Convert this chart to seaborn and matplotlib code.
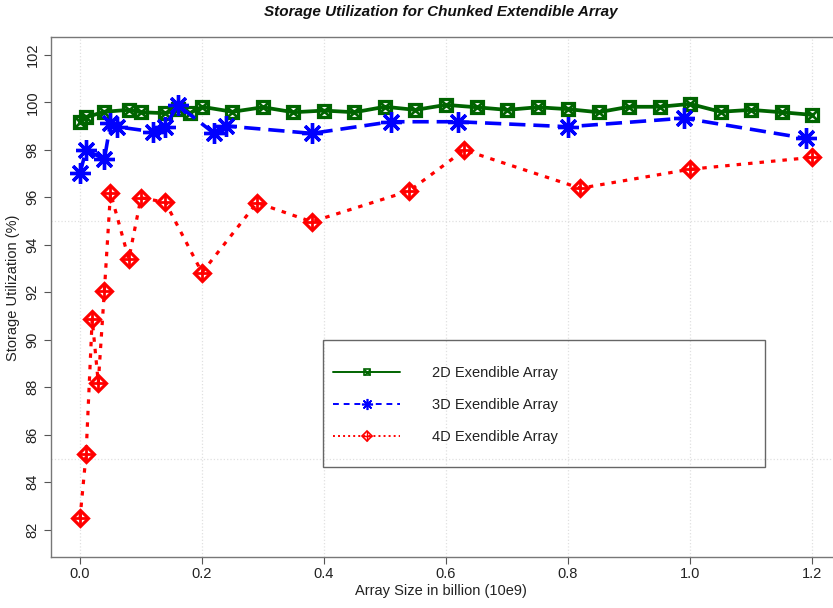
import matplotlib
matplotlib.use("Agg")
import numpy as np
import pandas as pd
import matplotlib.pyplot as plt
import seaborn as sns
from matplotlib.lines import Line2D
from matplotlib.patches import Rectangle
from matplotlib.legend_handler import HandlerTuple
from matplotlib import font_manager

# ---------------- data ----------------
x2d = [0.0, 0.01, 0.04, 0.08, 0.10, 0.14, 0.16, 0.18, 0.20, 0.25, 0.30, 0.35, 0.40,
       0.45, 0.50, 0.55, 0.60, 0.65, 0.70, 0.75, 0.80, 0.85, 0.90, 0.95, 1.00,
       1.05, 1.10, 1.15, 1.20]
y2d = [99.18, 99.37, 99.60, 99.68, 99.58, 99.54, 99.70, 99.54, 99.81, 99.60, 99.79,
       99.58, 99.65, 99.58, 99.81, 99.68, 99.89, 99.79, 99.68, 99.79, 99.71, 99.58,
       99.81, 99.81, 99.93, 99.60, 99.68, 99.58, 99.47]

x3d = [0.0, 0.01, 0.04, 0.05, 0.06, 0.12, 0.14, 0.16, 0.22, 0.24, 0.38, 0.51, 0.62,
       0.80, 0.99, 1.19]
y3d = [97.01, 97.99, 97.60, 99.12, 98.97, 98.76, 98.97, 99.89, 98.69, 99.00, 98.69,
       99.18, 99.18, 98.97, 99.33, 98.48]

x4d = [0.0, 0.01, 0.02, 0.03, 0.04, 0.05, 0.08, 0.10, 0.14, 0.20, 0.29, 0.38, 0.54,
       0.63, 0.82, 1.00, 1.20]
y4d = [82.48, 85.19, 90.88, 88.19, 92.07, 96.19, 93.40, 95.98, 95.79, 92.83, 95.77,
       94.97, 96.27, 97.99, 96.38, 97.18, 97.68]

series_labels = ["2D Exendible Array", "3D Exendible Array", "4D Exendible Array"]
xticks = [0.0, 0.2, 0.4, 0.6, 0.8, 1.0, 1.2]
xtick_labels = ["0.0", "0.2", "0.4", "0.6", "0.8", "1.0", "1.2"]
yticks = [82, 84, 86, 88, 90, 92, 94, 96, 98, 100, 102]
ygrid = [85, 90, 95, 100]

title = "Storage Utilization for Chunked Extendible Array"
xlabel = "Array Size in billion (10e9)"
ylabel = "Storage Utilization (%)"

# ---------------- style ----------------
sns.set_theme(style="white")
names = {f.name for f in font_manager.fontManager.ttflist}
fam = [f for f in ["Liberation Sans Narrow", "Liberation Sans", "DejaVu Sans"] if f in names]
plt.rcParams["font.family"] = fam

W, H = 833, 608
fig = plt.figure(figsize=(W / 100, H / 100), dpi=100)
L, R, T, B = 50.7, 841.3, 36.7, 556.7
ax = fig.add_axes([L / W, (H - B) / H, (R - L) / W, (B - T) / H])

green, blue, red = "#006400", "#0000FF", "#FF0000"

df2 = pd.DataFrame({"size": x2d, "util": y2d})
df3 = pd.DataFrame({"size": x3d, "util": y3d})
df4 = pd.DataFrame({"size": x4d, "util": y4d})

# 2D: square with X
sns.lineplot(data=df2, x="size", y="util", ax=ax, color=green, lw=2.7,
             marker="s", ms=8.5, mfc="none", mec=green, mew=2.3,
             estimator=None, errorbar=None, sort=False, zorder=3)
sns.lineplot(data=df2, x="size", y="util", ax=ax, color=green, ls="none",
             marker="x", ms=8.5, mec=green, mew=2.0,
             estimator=None, errorbar=None, sort=False, zorder=3)

# 3D: asterisk
sns.lineplot(data=df3, x="size", y="util", ax=ax, color=blue, lw=2.6,
             linestyle=(0, (4.5, 2.2)), marker=(8, 2, 0), ms=15, mec=blue, mew=2.4,
             estimator=None, errorbar=None, sort=False, zorder=4)

# 4D: diamond with plus
sns.lineplot(data=df4, x="size", y="util", ax=ax, color=red, lw=2.3,
             linestyle=(0, (1.4, 2.2)), marker="D", ms=8.3, mfc="none", mec=red, mew=2.3,
             estimator=None, errorbar=None, sort=False, zorder=5)
sns.lineplot(data=df4, x="size", y="util", ax=ax, color=red, ls="none",
             marker="+", ms=11.7, mec=red, mew=2.0,
             estimator=None, errorbar=None, sort=False, zorder=5)

# ---------------- axes ----------------
ax.set_xlim(-0.048, 1.248)
ax.set_ylim(80.87, 102.76)
ax.set_xticks(xticks)
ax.set_xticklabels(xtick_labels, fontsize=10.5)
ax.set_yticks(yticks)
ax.set_yticklabels([str(v) for v in yticks], fontsize=10.5, rotation=90, va="center")
ax.set_yticks(ygrid, minor=True)
ax.tick_params(axis="both", which="major", direction="out", length=5, width=0.8,
               color="#555555", left=True, bottom=True, labelcolor="#222222")
ax.tick_params(axis="x", which="major", pad=2.5)
ax.tick_params(axis="y", which="major", pad=3)
ax.tick_params(which="minor", length=0)
ax.grid(False)
ax.xaxis.grid(True, which="major", color="#e0e0e0", linestyle=":", lw=0.9)
ax.yaxis.grid(True, which="minor", color="#e0e0e0", linestyle=":", lw=0.9)
ax.set_axisbelow(True)
for side in ["left", "bottom", "top"]:
    ax.spines[side].set_visible(True)
    ax.spines[side].set_color("#777777")
    ax.spines[side].set_linewidth(1.0)
ax.spines["right"].set_visible(False)

ax.set_xlabel(xlabel, fontsize=10.5, color="#222222")
ax.xaxis.set_label_coords((441 - L) / (R - L), (B - 584) / (B - T))
ax.set_ylabel(ylabel, fontsize=10.5, color="#222222")
ax.yaxis.set_label_coords((19.5 - L) / (R - L), 0.5 + (296.7 - 288) / (B - T))

fig.text(441 / W, 1 - 12 / H, title, ha="center", va="center", fontsize=11,
         fontweight="bold", fontstyle="italic", color="#111111")

# ---------------- legend ----------------
h2 = (Line2D([], [], color=green, lw=1.4, marker="s", ms=5, mfc="none", mec=green, mew=1.2),
      Line2D([], [], color=green, ls="none", marker="x", ms=5, mec=green, mew=1.0))
h3 = (Line2D([], [], color=blue, lw=1.4, linestyle=(0, (3, 2.5)), marker=(8, 2, 0), ms=8,
             mec=blue, mew=1.2),)
h4 = (Line2D([], [], color=red, lw=1.4, linestyle=(0, (1, 1.6)), marker="D", ms=5,
             mfc="none", mec=red, mew=1.2),
      Line2D([], [], color=red, ls="none", marker="+", ms=7, mec=red, mew=1.0))
leg = ax.legend([h2, h3, h4], series_labels, handler_map={tuple: HandlerTuple(ndivide=1)},
                loc="upper left", bbox_to_anchor=(333 / W, 1 - 366 / H),
                bbox_transform=fig.transFigure, frameon=False, fontsize=10.5,
                borderpad=0, borderaxespad=0, handlelength=4.6, handletextpad=2.2,
                labelspacing=1.25, numpoints=1)
for t in leg.get_texts():
    t.set_color("#222222")
frame = Rectangle((323 / W, 1 - 467 / H), 442 / W, 127 / H, transform=fig.transFigure,
                  fill=False, edgecolor="#666666", lw=1.0, zorder=10)
fig.add_artist(frame)

fig.savefig("out.png", dpi=100)
